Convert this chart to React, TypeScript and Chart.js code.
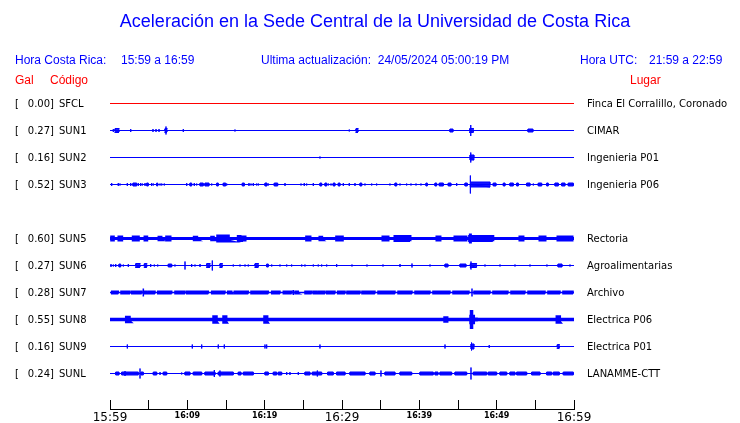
import React, { useEffect, useRef } from 'react';
import { Chart, registerables } from 'chart.js';

Chart.register(...registerables);

// ---- texts ----
const TITLE = 'Aceleración en la Sede Central de la Universidad de Costa Rica';
const HORA_CR = ['Hora Costa Rica:', '15:59 a 16:59'];
const UPDATED = 'Ultima actualización:  24/05/2024 05:00:19 PM';
const HORA_UTC = ['Hora UTC:', '21:59 a 22:59'];
const HEAD_GAL = 'Gal';
const HEAD_CODE = 'Código';
const HEAD_PLACE = 'Lugar';

// ---- stations ----
const CODES = ['SFCL', 'SUN1', 'SUN2', 'SUN3', 'SUN5', 'SUN6', 'SUN7', 'SUN8', 'SUN9', 'SUNL'];
const GAL = [0.0, 0.27, 0.16, 0.52, 0.6, 0.27, 0.28, 0.55, 0.16, 0.24];
const PLACES = [
  'Finca El Corralillo, Coronado',
  'CIMAR',
  'Ingenieria P01',
  'Ingenieria P06',
  'Rectoria',
  'Agroalimentarias',
  'Archivo',
  'Electrica P06',
  'Electrica P01',
  'LANAMME-CTT',
];
// channel slot of each station (slot 4 = SUN4, not reporting)
const SLOTS = [0, 1, 2, 3, 5, 6, 7, 8, 9, 10];

// ---- time axis ----
const START_MINUTES = 15 * 60 + 59;
const WINDOW_MINUTES = 60;
const TICK_STEP = 5;
const LABEL_STEP = 10;
const BIG_LABELS = [0, 30, 60];

// ---- traces: [startMin, endMin, amplitude(counts)], 27 counts = one channel spacing ----
const COUNTS_PER_SLOT = 27;

const SFCL_EV: number[][] = [];
const SUN1_EV = [
  [0.43, 0.43, 1.5], [0.65, 1.16, 2], [2.68, 2.68, 1.5], [5.56, 5.56, 1.5], [5.95, 5.95, 1.5],
  [6.34, 6.34, 1.5], [7.11, 7.37, 2], [7.24, 7.24, 4], [9.48, 9.48, 1.5], [16.16, 16.16, 1],
  [30.94, 30.94, 1], [31.81, 32.07, 2], [43.96, 44.35, 1.5], [46.5, 47.0, 2], [46.65, 46.65, 5.5],
  [54.05, 54.69, 1.5],
];
const SUN2_EV = [[27.15, 27.15, 1], [46.55, 47.07, 2.5], [46.65, 46.65, 5]];
const SUN3_EV = [
  [0.22, 0.22, 1.5], [1.07, 1.07, 1.5], [1.29, 1.29, 1], [2.24, 2.24, 1.5], [2.68, 2.68, 1.5],
  [2.97, 3.45, 1.5], [3.66, 3.66, 1.5], [3.97, 3.97, 1.5], [4.18, 4.18, 1], [4.53, 4.53, 1.5],
  [4.75, 4.95, 1.5], [5.39, 5.39, 1.5], [5.6, 5.6, 1], [6.04, 6.17, 1.5], [6.47, 6.47, 1],
  [6.69, 6.69, 1], [7.02, 7.02, 1], [9.92, 9.92, 1.5], [10.34, 10.56, 1.5], [10.9, 10.9, 1.5],
  [11.21, 11.21, 1], [11.64, 12.06, 1.5], [12.28, 12.8, 1.5], [13.15, 13.15, 1], [13.8, 14.0, 1.5],
  [14.65, 14.96, 1.5], [15.09, 15.09, 1], [17.11, 17.37, 1.5], [17.97, 17.97, 1.5], [18.23, 18.23, 1],
  [18.53, 18.53, 1.5], [18.97, 18.97, 1], [19.18, 19.18, 1], [20.04, 20.3, 1.5], [20.47, 20.47, 1],
  [21.24, 21.68, 1.5], [22.63, 22.63, 1.5], [24.7, 24.7, 1], [25.12, 25.12, 1.5], [25.43, 25.43, 1],
  [26.29, 26.29, 1.5], [27.15, 27.37, 1.5], [27.8, 28.02, 1.5], [28.23, 28.23, 1], [28.58, 28.58, 1],
  [28.87, 29.09, 1.5], [29.52, 29.74, 1.5], [30.17, 30.17, 1.5], [30.94, 30.94, 1.5], [31.68, 31.68, 1.5],
  [32.33, 32.55, 1.5], [32.97, 32.97, 1], [33.84, 33.84, 1], [34.48, 34.48, 1], [36.2, 36.2, 1],
  [36.85, 37.07, 1.5], [37.5, 37.5, 1], [38.36, 38.36, 1], [38.92, 38.92, 1], [39.57, 39.57, 1],
  [40.21, 40.21, 1], [40.86, 41.03, 1.5], [42.02, 42.24, 1.5], [42.58, 43.1, 1.5], [43.74, 44.09, 1.5],
  [44.83, 44.83, 1.5], [45.9, 46.2, 1.5], [46.6, 46.6, 9], [46.6, 49.14, 2.5], [49.56, 49.91, 1.5],
  [50.86, 51.08, 1.5], [51.72, 52.15, 1.5], [52.59, 52.8, 1.5], [53.88, 54.31, 1.5], [54.74, 54.74, 1],
  [55.38, 55.82, 1.5], [56.47, 56.67, 1.5], [57.54, 57.97, 1.5], [58.41, 58.83, 1.5], [59.26, 59.91, 1.5],
];
const SUN5_EV = [
  [0.22, 0.43, 1.5], [0.87, 0.87, 1.5], [1.16, 1.51, 1.5], [3.01, 3.66, 1.5], [4.18, 4.18, 1.5],
  [4.53, 4.75, 1.5], [6.34, 6.59, 1.2], [6.89, 6.89, 1.2], [7.33, 7.76, 1.5], [10.34, 10.34, 1.2],
  [10.9, 11.21, 1.2], [12.19, 12.19, 1.2], [12.84, 12.84, 1.2], [13.15, 13.36, 1.2], [13.93, 15.3, 2.5],
  [14.5, 14.5, 3.5], [15.74, 15.74, 1.5], [16.59, 16.81, 2], [17.11, 17.46, 1.5], [18.23, 18.23, 1.2],
  [20.04, 20.04, 1.2], [20.69, 20.69, 1.2], [21.55, 21.55, 1.2], [22.2, 22.2, 1.2], [22.85, 22.85, 1.2],
  [23.92, 23.92, 1.2], [24.79, 24.79, 1.5], [25.43, 25.86, 1.5], [27.15, 27.37, 1.2], [28.45, 28.45, 1.2],
  [29.31, 30.04, 1.5], [31.29, 31.29, 1.2], [33.36, 33.36, 1.2], [35.3, 35.95, 1.5], [36.85, 38.79, 2],
  [40.34, 40.34, 1.5], [42.28, 42.67, 1.5], [44.61, 46.03, 1.5], [46.5, 49.5, 2], [46.6, 46.6, 5],
  [51.07, 51.07, 1.2], [53.01, 53.4, 1.5], [55.6, 56.25, 1.5], [57.93, 59.74, 1.5],
];
const SUN6_EV = [
  [0.13, 0.13, 1.5], [0.43, 0.43, 1], [0.74, 0.74, 1.5], [1.16, 1.38, 1.5], [1.72, 1.72, 1],
  [2.37, 2.37, 1.5], [3.32, 3.88, 2], [4.44, 4.75, 2], [5.26, 5.26, 1.5], [5.73, 5.73, 1],
  [6.17, 6.17, 1], [7.54, 7.98, 1.5], [8.4, 8.4, 1], [9.7, 9.7, 4], [10.56, 10.56, 1.5],
  [10.99, 10.99, 1], [11.64, 11.64, 1.5], [12.5, 12.93, 2], [13.23, 13.23, 5], [14.22, 14.52, 2],
  [15.94, 15.94, 1], [16.81, 16.81, 1], [17.46, 17.46, 1], [17.88, 17.88, 1], [18.75, 19.18, 2],
  [20.26, 20.47, 1.5], [20.91, 20.91, 1], [21.98, 21.98, 1], [22.85, 22.85, 1], [23.49, 23.49, 1],
  [24.79, 24.79, 1], [25.21, 25.21, 1], [26.29, 26.29, 1], [26.93, 26.93, 1], [27.37, 27.37, 1],
  [28.02, 28.02, 1], [29.31, 29.31, 1.5], [31.29, 31.29, 1], [33.23, 33.23, 1], [35.3, 35.3, 1],
  [37.5, 37.5, 1.5], [39.05, 39.05, 2], [41.38, 41.38, 1], [43.32, 43.7, 1.5], [45.26, 46.03, 1.5],
  [46.6, 47.4, 2], [46.68, 46.68, 4], [48.49, 48.49, 1], [50.43, 50.43, 1], [52.37, 52.37, 1],
  [54.31, 54.31, 1], [56.5, 56.5, 1], [57.93, 58.45, 1.5], [59.48, 59.48, 1],
];
const SUN7_EV = [
  [0.22, 1.07, 1.2], [1.42, 2.59, 1.2], [2.81, 4.1, 1.2], [4.31, 4.31, 4], [4.31, 4.75, 1.2],
  [4.95, 5.82, 1.2], [6.17, 7.98, 1.2], [8.4, 9.7, 1.2], [9.92, 12.71, 1.2], [13.15, 14.87, 1.2],
  [15.22, 15.74, 1.2], [16.07, 17.88, 1.2], [18.23, 20.47, 1.2], [20.91, 21.98, 1.2], [22.41, 23.49, 1.2],
  [23.7, 23.7, 2.5], [23.92, 24.35, 1.2], [25.21, 26.08, 1.2], [26.29, 26.73, 1.2], [26.93, 27.8, 1.2],
  [28.02, 29.09, 1.2], [29.44, 30.39, 1.2], [30.64, 32.33, 1.2], [32.58, 34.26, 1.2], [34.65, 36.85, 1.2],
  [37.24, 39.05, 1.2], [39.44, 41.38, 1.2], [41.76, 43.96, 1.2], [44.35, 46.42, 1.2], [46.81, 46.81, 4],
  [47.07, 49.14, 1.2], [49.52, 51.46, 1.2], [51.85, 53.66, 1.2], [54.05, 56.25, 1.2], [56.63, 58.19, 1.2],
  [58.57, 59.87, 1.2],
];
const SUN8_EV = [
  [2.16, 2.46, 2], [2.88, 2.88, 1.5], [10.64, 10.64, 1.5], [11.77, 11.77, 1.5], [13.45, 13.71, 2.5],
  [14.0, 14.0, 1.5], [14.74, 14.96, 2.5], [18.97, 18.97, 1], [20.04, 20.26, 2.5], [20.1, 20.1, 4],
  [23.05, 23.05, 1], [24.22, 24.22, 1.5], [26.08, 26.08, 1], [27.15, 27.15, 1.5], [31.03, 31.03, 1],
  [36.85, 36.85, 1], [43.32, 43.54, 1.5], [46.68, 46.98, 3], [46.75, 46.75, 9.5], [47.33, 47.33, 2],
  [49.04, 49.04, 1.5], [51.2, 51.2, 1], [56.47, 56.47, 1], [56.8, 56.8, 1], [57.84, 58.1, 2.5],
  [58.92, 58.92, 1],
];
const SUN9_EV = [
  [2.24, 2.24, 2], [10.64, 10.64, 2], [11.86, 11.86, 2], [14.0, 14.0, 2], [14.78, 14.78, 2],
  [20.04, 20.04, 2], [20.26, 20.26, 2], [27.15, 27.15, 2], [43.32, 43.32, 2], [46.68, 47.07, 2.5],
  [46.75, 46.75, 4], [49.04, 49.04, 1.5], [57.84, 58.1, 2],
];
const SUNL_EV = [
  [0.74, 1.16, 1.5], [1.51, 3.66, 1.5], [1.94, 1.94, 2.5], [3.88, 3.88, 5], [4.01, 4.31, 1.5],
  [5.6, 6.04, 1.5], [6.47, 6.47, 1.5], [6.89, 7.33, 1.5], [9.27, 9.27, 1], [9.7, 10.34, 1.5],
  [10.77, 11.86, 1.5], [12.28, 13.58, 1.5], [13.49, 13.49, 3.5], [14.0, 15.94, 1.5], [14.22, 14.22, 3],
  [16.59, 16.94, 1.5], [17.24, 18.53, 1.5], [20.04, 20.47, 1.5], [21.12, 21.55, 1.5], [21.76, 22.2, 1.5],
  [22.85, 22.85, 1.5], [23.27, 23.27, 1.5], [24.35, 24.35, 1.5], [25.21, 25.86, 1.5], [26.16, 27.37, 1.5],
  [26.81, 26.81, 3], [28.15, 28.87, 1.5], [29.31, 30.39, 1.5], [31.03, 32.97, 1.5], [33.62, 34.26, 1.5],
  [35.04, 35.04, 3], [35.56, 36.85, 1.5], [37.5, 39.01, 1.5], [40.08, 41.8, 1.5], [42.02, 42.41, 1.5],
  [42.67, 44.18, 1.5], [44.61, 46.12, 1.5], [46.68, 46.68, 6], [46.98, 48.71, 1.5], [48.91, 50.0, 1.5],
  [50.43, 51.3, 1.5], [51.72, 52.37, 1.5], [52.59, 53.88, 1.5], [54.53, 55.6, 1.5], [56.47, 57.11, 1.5],
  [57.32, 58.1, 1.5], [58.61, 59.91, 1.5],
];
const EVENTS = [SFCL_EV, SUN1_EV, SUN2_EV, SUN3_EV, SUN5_EV, SUN6_EV, SUN7_EV, SUN8_EV, SUN9_EV, SUNL_EV];

// ---- styles ----
const BLUE = 'rgb(0,0,255)';
const RED = 'rgb(255,0,0)';
const TRACE_COLORS = [RED, BLUE, BLUE, BLUE, BLUE, BLUE, BLUE, BLUE, BLUE, BLUE];
const TRACE_WIDTHS = [1, 1, 1, 1, 3, 1, 1.5, 3.5, 1, 1];
const SANS = '"Liberation Sans", Arial, sans-serif';
const DEJAVU = '"DejaVu Sans", sans-serif';
const FILL_STEP = 0.7; // counts between raster passes inside a burst

function fmtTime(v: number) {
  const t = START_MINUTES + v;
  const h = Math.floor(t / 60);
  const m = t % 60;
  return `${h}:${String(m).padStart(2, '0')}`;
}

// Turns each burst into a path through the library's scales: a vertical stroke for
// a single spike, a back-and-forth raster for a burst with duration.
function buildTrace(slot: number, events: number[][]) {
  const pts: { x: number; y: number }[] = [{ x: 0, y: slot }];
  const sorted = [...events].sort((a, b) => a[0] - b[0]);
  for (const [t0, t1, a] of sorted) {
    pts.push({ x: t0, y: slot });
    if (t1 <= t0) {
      pts.push({ x: t0, y: slot - a / COUNTS_PER_SLOT });
      pts.push({ x: t0, y: slot + a / COUNTS_PER_SLOT });
    } else {
      const n = Math.max(1, Math.ceil((2 * a) / FILL_STEP));
      for (let k = 0; k <= n; k++) {
        const y = slot + (-a + (2 * a * k) / n) / COUNTS_PER_SLOT;
        if (k % 2 === 0) {
          pts.push({ x: t0, y });
          pts.push({ x: t1, y });
        } else {
          pts.push({ x: t1, y });
          pts.push({ x: t0, y });
        }
      }
    }
    pts.push({ x: t0, y: slot });
  }
  pts.push({ x: WINDOW_MINUTES, y: slot });
  return pts;
}

const textPlugin = {
  id: 'seismoTexts',
  afterDraw(chart: any) {
    const ctx = chart.ctx as CanvasRenderingContext2D;
    const yScale = chart.scales.y;
    ctx.save();
    ctx.textBaseline = 'middle';

    ctx.fillStyle = BLUE;
    ctx.font = `18px ${SANS}`;
    ctx.textAlign = 'center';
    ctx.fillText(TITLE, 375, 22);

    ctx.font = `12px ${SANS}`;
    ctx.textAlign = 'left';
    ctx.fillText(HORA_CR[0], 15, 61);
    ctx.fillText(HORA_CR[1], 121, 61);
    ctx.fillText(UPDATED, 261, 61);
    ctx.fillText(HORA_UTC[0], 580, 61);
    ctx.fillText(HORA_UTC[1], 649, 61);

    ctx.fillStyle = RED;
    ctx.fillText(HEAD_GAL, 15, 81);
    ctx.fillText(HEAD_CODE, 50, 81);
    ctx.fillText(HEAD_PLACE, 630, 81);

    ctx.fillStyle = '#000';
    ctx.font = `10px ${DEJAVU}`;
    CODES.forEach((code, i) => {
      const y = Math.round(yScale.getPixelForValue(SLOTS[i]));
      ctx.textAlign = 'left';
      ctx.fillText('[', 15, y);
      ctx.textAlign = 'right';
      ctx.fillText(`${GAL[i].toFixed(2)}]`, 54, y);
      ctx.textAlign = 'left';
      ctx.fillText(code, 59, y);
      ctx.fillText(PLACES[i], 587, y);
    });
    ctx.restore();
  },
};

export default function App() {
  const ref = useRef<HTMLCanvasElement>(null);
  useEffect(() => {
    document.body.style.margin = '0';
    const canvas = ref.current!;
    const chart = new Chart(canvas, {
      type: 'line',
      data: {
        datasets: CODES.map((code, i) => ({
          label: code,
          data: buildTrace(SLOTS[i], EVENTS[i]),
          borderColor: TRACE_COLORS[i],
          borderWidth: TRACE_WIDTHS[i],
          pointRadius: 0,
          tension: 0,
          fill: false,
        })),
      },
      options: {
        animation: false,
        responsive: false,
        devicePixelRatio: 1,
        events: [],
        layout: { padding: { left: 110, right: 166, top: 90, bottom: 0 } },
        plugins: { legend: { display: false }, tooltip: { enabled: false }, title: { display: false } },
        scales: {
          x: {
            type: 'linear',
            min: 0,
            max: WINDOW_MINUTES,
            afterFit: (s: any) => {
              s.height = 14;
            },
            grid: {
              display: true,
              drawOnChartArea: false,
              drawTicks: true,
              tickLength: -9,
              color: '#000',
              lineWidth: 1,
            },
            border: { display: true, color: '#000', width: 1 },
            ticks: {
              stepSize: TICK_STEP,
              autoSkip: false,
              maxRotation: 0,
              padding: 11,
              color: '#000',
              callback: (v: any) => (Number(v) % LABEL_STEP === 0 ? fmtTime(Number(v)) : ''),
              font: (c: any) =>
                c.tick && BIG_LABELS.includes(c.tick.value)
                  ? { family: DEJAVU, size: 12 }
                  : { family: DEJAVU, size: 8, weight: 'bold' },
            },
          },
          y: {
            type: 'linear',
            display: false,
            reverse: true,
            min: -0.5,
            max: 11.3148,
          },
        },
      },
      plugins: [textPlugin],
    } as any);
    return () => chart.destroy();
  }, []);
  return (
    <div style={{ position: 'fixed', left: 0, top: 0, width: 740, height: 423, background: '#fff' }}>
      <canvas ref={ref} width={740} height={423} style={{ display: 'block' }} />
    </div>
  );
}
